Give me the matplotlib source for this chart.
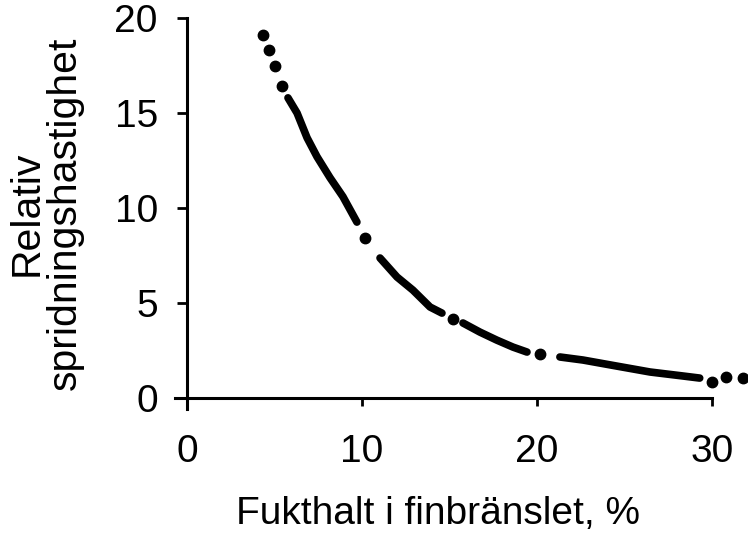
import matplotlib
matplotlib.use("Agg")
import matplotlib.pyplot as plt

plt.rcParams['font.family'] = ['Liberation Sans', 'DejaVu Sans']

# kurvan: sammanhängande streck och enskilda punkter
seg1_x = [5.77, 6.29, 6.86, 7.43, 8.17, 8.91, 9.71]
seg1_y = [15.8, 15.0, 13.7, 12.7, 11.6, 10.6, 9.26]
seg2_x = [11.03, 12.0, 12.91, 13.89, 14.57]
seg2_y = [7.37, 6.37, 5.68, 4.79, 4.47]
seg3_x = [15.77, 16.74, 17.7, 18.63, 19.43]
seg3_y = [3.95, 3.47, 3.05, 2.68, 2.42]
seg4_x = [21.31, 22.63, 24.57, 26.46, 28.34, 29.3]
seg4_y = [2.16, 2.0, 1.68, 1.37, 1.16, 1.05]

dot_x = [4.34, 4.69, 5.03, 5.43, 10.2, 15.2, 20.2, 30.0, 30.8, 31.77]
dot_y = [19.1, 18.3, 17.5, 16.4, 8.42, 4.16, 2.32, 0.84, 1.1, 1.05]

xticks = [0, 10, 20, 30]
yticks = [0, 5, 10, 15, 20]

fig = plt.figure(figsize=(7.48, 5.42), dpi=100)
ax = fig.add_axes([0.2313, 0.2446, 0.7687, 0.7554])

for sx, sy in [(seg1_x, seg1_y), (seg2_x, seg2_y), (seg3_x, seg3_y), (seg4_x, seg4_y)]:
    ax.plot(sx, sy, color='black', lw=5.5, solid_capstyle='round', clip_on=False)
ax.plot(dot_x, dot_y, 'o', color='black', ms=7.5, clip_on=False)

ax.set_xlim(-0.8, 32.06)
ax.set_ylim(-0.6, 20.95)

for s in ['top', 'right']:
    ax.spines[s].set_visible(False)
ax.spines['left'].set_position(('data', 0))
ax.spines['bottom'].set_position(('data', 0))
ax.spines['left'].set_linewidth(2.2)
ax.spines['bottom'].set_linewidth(2.2)
ax.spines['left'].set_bounds(-0.6, 20)
ax.spines['bottom'].set_bounds(-0.7, 30)

ax.set_xticks(xticks)
ax.set_yticks(yticks)
ax.tick_params(axis='both', direction='out', width=2, color='black', labelsize=28)
ax.tick_params(axis='y', length=7, pad=14)
ax.tick_params(axis='x', length=6, pad=20)

fig.text(0.586, 1 - 514 / 542, 'Fukthalt i finbränslet, %', fontsize=28,
         ha='center', va='center')
fig.text(46 / 748, 1 - 213 / 542, 'Relativ\nspridningshastighet', fontsize=29.5,
         rotation=90, ha='center', va='center', multialignment='center',
         linespacing=1.0)

fig.savefig('out.png', dpi=100)
